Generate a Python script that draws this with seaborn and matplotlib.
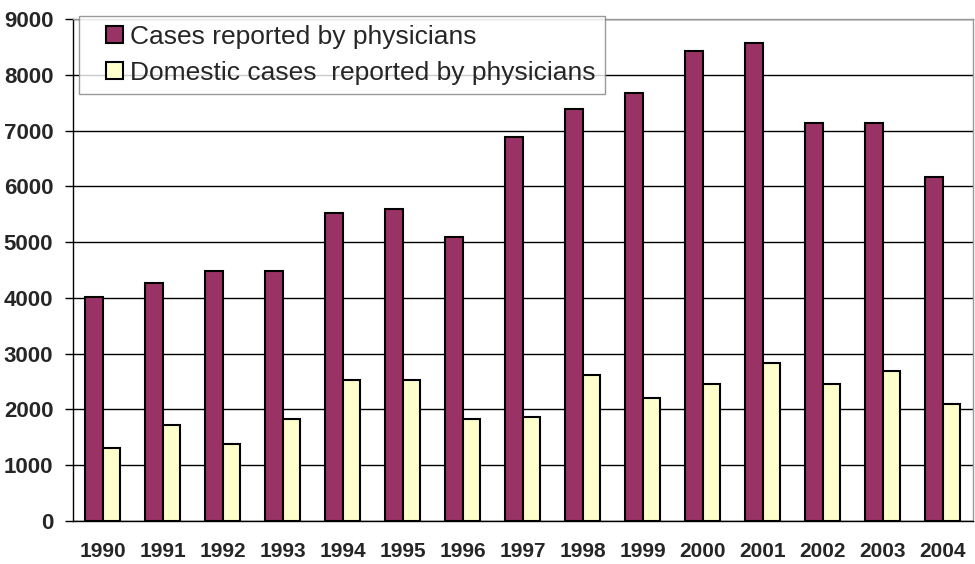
import pandas as pd
import numpy as np
import seaborn as sns
import matplotlib.pyplot as plt
import matplotlib.patches as mpatches
from matplotlib.legend_handler import HandlerPatch

# Data
years = ['1990', '1991', '1992', '1993', '1994', '1995', '1996', '1997',
         '1998', '1999', '2000', '2001', '2002', '2003', '2004']
all_cases = [4010, 4270, 4480, 4480, 5530, 5590, 5085, 6890,
             7390, 7670, 8425, 8575, 7135, 7135, 6160]
domestic_cases = [1315, 1715, 1380, 1820, 2535, 2535, 1820, 1860,
                  2610, 2205, 2455, 2835, 2455, 2685, 2105]
series_names = ['Cases reported by physicians',
                'Domestic cases  reported by physicians']
colors = ['#993366', '#FFFFCC']
y_ticks = [0, 1000, 2000, 3000, 4000, 5000, 6000, 7000, 8000, 9000]

sns.set_theme(style="white")
plt.rcParams['font.family'] = ['Liberation Sans', 'DejaVu Sans']

df = pd.DataFrame({
    'Year': years * 2,
    'Cases': all_cases + domestic_cases,
    'Series': [series_names[0]] * len(years) + [series_names[1]] * len(years),
})

fig = plt.figure(figsize=(9.75, 5.64), dpi=100)
ax = fig.add_axes([72.7 / 975, 1 - 521 / 564, 900 / 975, 502 / 564])

sns.barplot(data=df, x='Year', y='Cases', hue='Series', order=years,
            hue_order=series_names, palette=colors, width=0.58,
            edgecolor='black', linewidth=1.5, saturation=1, ax=ax, zorder=3,
            legend=False)

ax.set_ylim(0, 9000)
ax.set_xlim(-0.5, len(years) - 0.5)
ax.set_yticks(y_ticks)
ax.set_yticklabels([str(v) for v in y_ticks], fontsize=16, fontweight='bold')
ax.grid(axis='y', color='black', linewidth=1, zorder=0)
ax.set_axisbelow(True)

# x labels without marks, marks at category boundaries
ax.tick_params(axis='x', which='major', length=0, pad=15)
ax.set_xticks(np.arange(-0.5, len(years)), minor=True)
ax.tick_params(axis='x', which='minor', length=6, width=1, color='black',
               direction='out')
for lab in ax.get_xticklabels():
    lab.set_fontsize(15)
    lab.set_fontweight('bold')
ax.tick_params(axis='y', length=6, width=1, color='black', direction='out',
               left=True, pad=8)

ax.set_xlabel('')
ax.set_ylabel('')

for side in ['left', 'bottom']:
    ax.spines[side].set_color('black')
    ax.spines[side].set_linewidth(1)
for side in ['top', 'right']:
    ax.spines[side].set_color('#999999')
    ax.spines[side].set_linewidth(1)


def square(legend, orig_handle, xdescent, ydescent, width, height, fontsize):
    # small square sitting at the right end of the handle box
    s = 0.62 * fontsize
    return mpatches.Rectangle((width - xdescent - s, -ydescent + (height - s) / 2), s, s)


handles = [mpatches.Patch(facecolor=c, edgecolor='black', linewidth=1.5)
           for c in colors]
leg = ax.legend(handles, series_names, loc='upper left',
                bbox_to_anchor=(0.007, 1.0066), borderaxespad=0, fontsize=19,
                frameon=True, fancybox=False, edgecolor='#808080',
                handlelength=1.3, handleheight=0.62, handletextpad=0.3,
                labelspacing=0.45, borderpad=0.35,
                handler_map={mpatches.Patch: HandlerPatch(patch_func=square)})
leg.get_frame().set_linewidth(1)
leg.set_zorder(5)

plt.savefig('out.png', dpi=100)
